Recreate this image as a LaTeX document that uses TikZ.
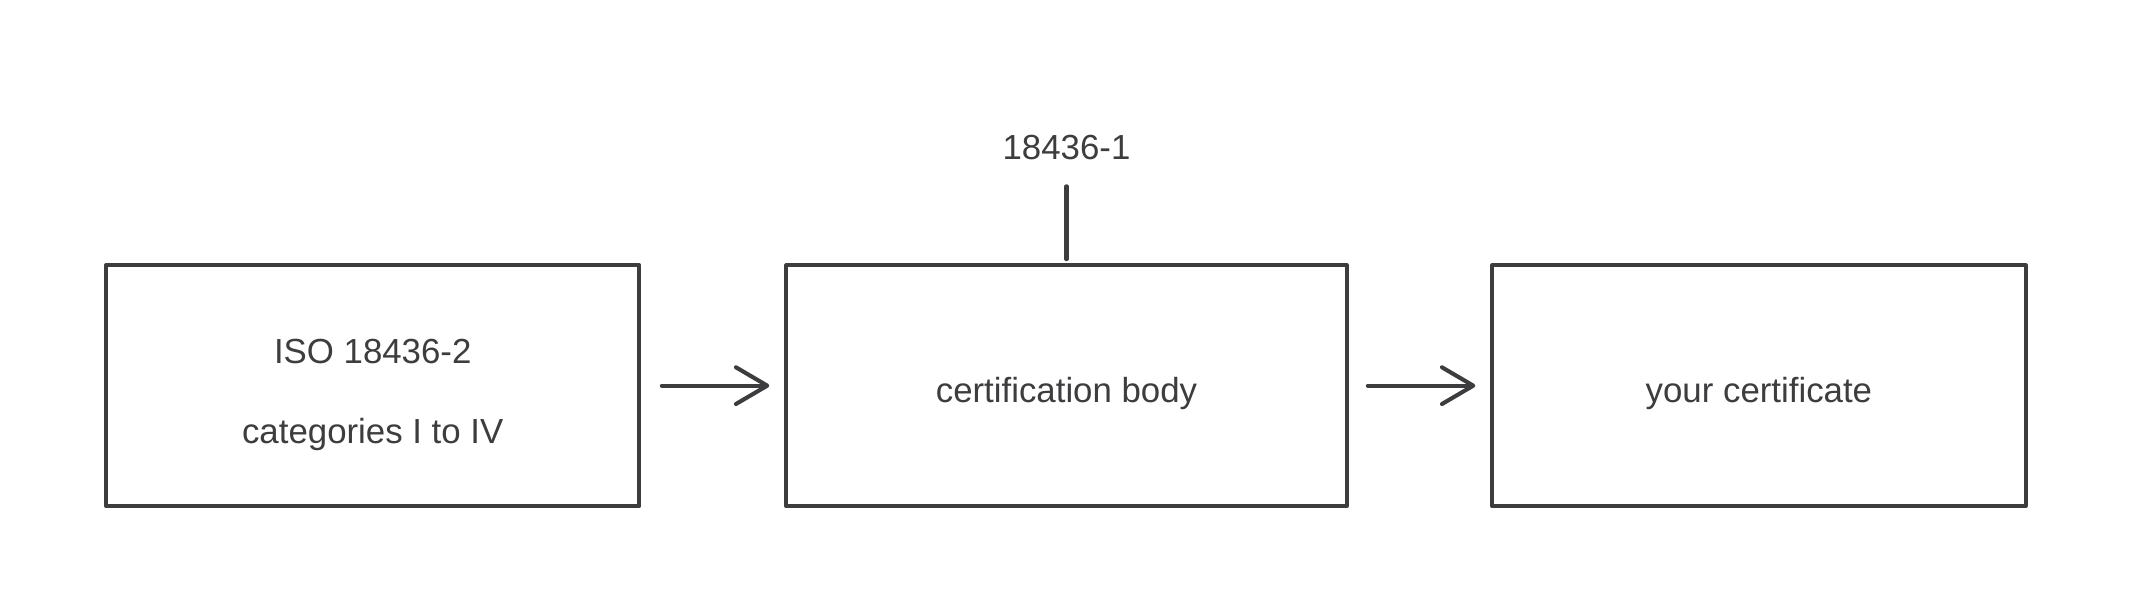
\documentclass[tikz,border=0pt]{standalone}
\usepackage{fontspec}
\setmainfont{Liberation Sans}
\usetikzlibrary{arrows.meta}
\definecolor{ink}{HTML}{3D3D40}
\begin{document}
\begin{tikzpicture}[x=0.5pt,y=-0.5pt,
  box/.style={draw=ink, line width=1.5pt, line join=round, minimum height=88.5pt, inner sep=0pt},
  txt/.style={text=ink, font=\fontsize{12.8}{15}\selectfont, align=center, inner sep=1pt},
  conn/.style={draw=ink, line width=1.5pt, line cap=round},
  arr/.style={conn, -{Straight Barb[length=11.5pt, width=13.5pt, line width=1.5pt, line cap=round, line join=round]}}
]
\useasboundingbox[fill=white] (0,0) rectangle (1568,450);
\node[box, minimum width=196pt] (iso) at (274,283.5) {};
\node[box, minimum width=206pt] (cb) at (784,283.5) {};
\node[box, minimum width=196pt] (cert) at (1293,283.5) {};
\node[txt] (isot) at ([yshift=-3.5pt]iso.center) {ISO 18436-2\\[14.5pt]categories I to IV};
\node[txt] (cbt) at ([yshift=-3pt]cb.center) {certification body};
\node[txt] (certt) at ([yshift=-3pt]cert.center) {your certificate};
\node[txt] (std) at (784,108.5) {18436-1};
\draw[arr, shorten <=7.5pt, shorten >=5.5pt] (iso.east) -- (cb.west);
\draw[arr, shorten <=7pt, shorten >=5.5pt] (cb.east) -- (cert.west);
\draw[conn, shorten <=8.5pt, shorten >=1.5pt] (std.south) -- (cb.north);
\end{tikzpicture}
\end{document}
